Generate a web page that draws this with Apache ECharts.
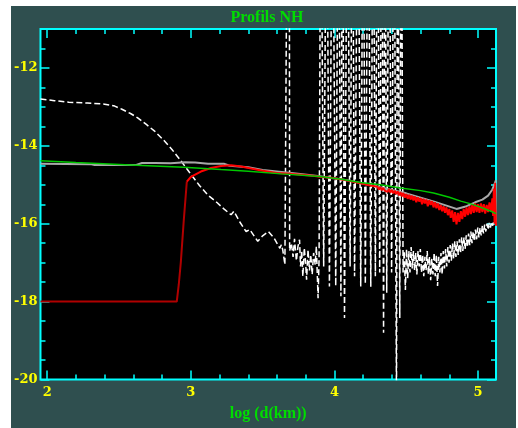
<!DOCTYPE html>
<html><head><meta charset="utf-8">
<script src="https://cdn.jsdelivr.net/npm/echarts@6/dist/echarts.min.js"></script>
<style>
html,body{margin:0;padding:0;background:#ffffff;width:518px;height:428px;overflow:hidden}
#c{position:absolute;left:11px;top:6px;width:505px;height:422px}
</style></head>
<body><div id="c"></div>
<script>
// ---- axis definitions ----
const X_MIN = 1.953, X_MAX = 5.125;
const Y_MIN = -20, Y_MAX = -11;
const xMajorTicks = [2, 3, 4, 5];
const xMinorTicks = [2.2, 2.4, 2.6, 2.8, 3.2, 3.4, 3.6, 3.8, 4.2, 4.4, 4.6, 4.8];
const yMajorTicks = [-20, -18, -16, -14, -12];
const yMinorTicks = [-19.5, -19, -18.5, -17.5, -17, -16.5, -15.5, -15, -14.5, -13.5, -13, -12.5, -11.5];
const titleText = 'Profils NH';
const xAxisName = 'log (d(km))';

// ---- series data [log d, value] ----
const whiteDashed = [
 [1.953,-12.80],[2.05,-12.84],[2.15,-12.88],[2.28,-12.90],[2.40,-12.93],[2.47,-12.98],[2.52,-13.06],
 [2.58,-13.17],[2.63,-13.28],[2.69,-13.45],[2.75,-13.63],[2.81,-13.85],[2.87,-14.10],[2.93,-14.38],
 [2.99,-14.68],[3.06,-15.02],[3.12,-15.27],[3.18,-15.45],[3.23,-15.62],[3.28,-15.77],[3.30,-15.68],
 [3.34,-15.95],[3.385,-16.20],[3.41,-16.15],[3.466,-16.45],[3.50,-16.31],[3.54,-16.20],[3.58,-16.37],
 [3.62,-16.63],[3.63,-16.54],[3.64,-16.67],[3.655,-17.05],[3.668,-17.10],[3.670,-8.0],[3.686,-8.0],
 [3.688,-16.70],[3.700,-16.50],[3.712,-16.85],[3.722,-16.39],[3.735,-16.95],[3.746,-16.58],[3.757,-16.41],
 [3.764,-17.10],[3.772,-16.70],[3.780,-17.35],[3.790,-16.62],[3.800,-17.05],[3.806,-17.44],[3.816,-16.67],
 [3.826,-17.20],[3.835,-16.80],[3.845,-17.30],[3.855,-16.75],[3.866,-17.05],[3.874,-16.58],[3.886,-17.91],
 [3.893,-16.90],
 [3.905,-6],[3.925,-17.10],[3.945,-6],[3.965,-17.61],[3.986,-6],[4.009,-17.60],[4.028,-6],[4.045,-17.86],
 [4.056,-6],[4.070,-18.42],[4.090,-6],[4.109,-17.10],[4.125,-6],[4.140,-17.35],[4.164,-6],[4.183,-17.61],
 [4.200,-6],[4.215,-17.55],[4.235,-6],[4.253,-17.62],[4.270,-6],[4.285,-17.35],[4.300,-6],[4.315,-17.25],
 [4.330,-6],[4.342,-18.80],[4.352,-6],[4.364,-17.77],[4.380,-6],[4.398,-17.25],[4.415,-6],[4.432,-20.6],
 [4.440,-6],[4.455,-18.42],[4.465,-6],
 [4.478,-17.25],[4.486,-16.70],[4.494,-17.70],[4.502,-16.65],[4.510,-17.40],[4.518,-16.70],[4.526,-17.25],
 [4.534,-16.60],[4.542,-17.15],[4.550,-16.70],[4.558,-17.20],[4.566,-16.75],[4.574,-17.30],[4.582,-16.70],
 [4.590,-17.10],[4.598,-16.65],[4.606,-17.25],[4.614,-16.80],[4.622,-17.35],[4.630,-16.85],[4.638,-17.20],
 [4.646,-16.70],[4.654,-17.30],[4.662,-16.85],[4.670,-17.45],[4.678,-16.90],[4.686,-17.30],[4.694,-16.75],
 [4.702,-17.35],[4.710,-16.80],[4.718,-17.60],[4.726,-16.85],[4.734,-17.25],[4.742,-16.75],[4.750,-17.30],
 [4.758,-16.70],[4.766,-17.15],[4.774,-16.65],[4.782,-17.10],[4.790,-16.60],[4.798,-17.00],[4.806,-16.55],
 [4.814,-16.95],[4.822,-16.50],[4.830,-16.90],[4.838,-16.45],[4.846,-16.85],[4.854,-16.45],[4.862,-16.80],
 [4.870,-16.40],[4.878,-16.75],[4.886,-16.35],[4.894,-16.70],[4.902,-16.35],[4.910,-16.65],[4.918,-16.30],
 [4.926,-16.60],[4.934,-16.25],[4.942,-16.55],[4.950,-16.20],[4.958,-16.50],[4.966,-16.20],[4.974,-16.45],
 [4.982,-16.15],[4.990,-16.40],[4.998,-16.10],[5.006,-16.35],[5.014,-16.10],[5.022,-16.30],[5.030,-16.05],
 [5.038,-16.25],[5.046,-16.02],[5.054,-16.20],[5.062,-16.00],[5.070,-16.15],[5.078,-15.98],[5.086,-16.10],
 [5.094,-15.95],[5.102,-16.05],[5.110,-15.92],[5.118,-15.98],[5.125,-15.85]
];
const grayLine = [
 [1.953,-14.46],[2.30,-14.47],[2.33,-14.49],[2.62,-14.49],[2.66,-14.44],[2.75,-14.44],[2.86,-14.45],
 [2.96,-14.42],[3.03,-14.43],[3.12,-14.46],[3.23,-14.46],[3.27,-14.51],[3.40,-14.55],[3.50,-14.62],
 [3.70,-14.70],[3.90,-14.78],[4.10,-14.89],[4.30,-15.05],[4.50,-15.22],[4.70,-15.44],[4.85,-15.62],
 [4.92,-15.55],[4.98,-15.45],[5.03,-15.38],[5.07,-15.28],[5.10,-15.12],[5.125,-14.88]
];
const redFlat = [
 [1.953,-18.0],[2.902,-18.0],[2.909,-17.95],[2.916,-17.56],[2.930,-17.0],[2.951,-15.90],[2.972,-14.92]
];
const redLine = [
 [2.972,-14.92],[3.00,-14.80],[3.07,-14.66],[3.14,-14.57],[3.21,-14.52],[3.28,-14.50],[3.35,-14.53],
 [3.42,-14.58],[3.50,-14.64],[3.60,-14.70],[3.70,-14.72],[3.77,-14.74],[3.85,-14.77],[3.91,-14.80],
 [3.98,-14.82],[4.04,-14.86],[4.10,-14.90],[4.18,-14.96],[4.25,-15.02],
 [4.30,-15.05],[4.31,-15.12],[4.32,-15.06],[4.33,-15.14],[4.34,-15.08],[4.35,-15.15],[4.36,-15.10],
 [4.37,-15.18],[4.38,-15.11],[4.39,-15.20],[4.40,-15.13],[4.41,-15.22],[4.42,-15.15],[4.43,-15.24],
 [4.44,-15.17],[4.45,-15.27],[4.46,-15.19],[4.47,-15.30],[4.48,-15.21],[4.49,-15.33],[4.50,-15.24],
 [4.51,-15.36],[4.52,-15.26],[4.53,-15.38],[4.54,-15.28],[4.55,-15.40],[4.56,-15.30],[4.57,-15.45],
 [4.58,-15.32],[4.59,-15.43],[4.60,-15.34],[4.61,-15.50],[4.62,-15.36],[4.63,-15.48],[4.64,-15.38],
 [4.65,-15.55],[4.66,-15.40],[4.67,-15.52],[4.68,-15.42],[4.69,-15.58],[4.70,-15.45],[4.71,-15.60],
 [4.72,-15.48],[4.73,-15.65],[4.74,-15.52],[4.75,-15.68],[4.76,-15.55],[4.77,-15.72],[4.78,-15.58],
 [4.79,-15.78],[4.80,-15.62],[4.81,-15.85],[4.82,-15.66],[4.83,-15.95],[4.84,-15.70],[4.85,-16.02],
 [4.86,-15.72],[4.87,-15.95],[4.88,-15.68],[4.89,-15.88],[4.90,-15.62],[4.91,-15.82],[4.92,-15.58],
 [4.93,-15.78],[4.94,-15.55],[4.95,-15.75],[4.96,-15.50],[4.97,-15.72],[4.98,-15.48],[4.99,-15.70],
 [5.00,-15.50],[5.01,-15.72],[5.02,-15.48],[5.03,-15.70],[5.04,-15.50],[5.05,-15.74],[5.06,-15.52],
 [5.07,-15.70],[5.08,-15.45],[5.09,-15.68],[5.10,-15.35],[5.105,-15.80],[5.11,-15.10],[5.115,-16.00],
 [5.12,-14.95],[5.125,-16.05]
];
const greenLine = [
 [1.953,-14.38],[2.20,-14.43],[2.58,-14.49],[2.95,-14.55],[3.21,-14.61],[3.40,-14.65],[3.63,-14.72],
 [3.90,-14.79],[4.05,-14.86],[4.18,-14.94],[4.32,-15.00],[4.46,-15.08],[4.60,-15.15],[4.69,-15.21],
 [4.80,-15.32],[4.88,-15.42],[4.95,-15.49],[5.02,-15.58],[5.09,-15.68],[5.125,-15.74]
];

// ---- styles ----
const CYAN = '#00ffff';
const tickFont = {color:'#ffff00', fontFamily:'DejaVu Serif', fontWeight:'bold', fontSize:13};
const greenFont = {color:'#00dd00', fontFamily:'Liberation Serif', fontWeight:'bold', fontSize:16};

function xAx(pos, ticks, len, withLabels, extra) {
  return Object.assign({
    type:'value', position:pos, min:X_MIN, max:X_MAX, gridIndex:0,
    axisLine:{show:false}, splitLine:{show:false},
    axisTick:{show:true, inside:true, length:len, customValues:ticks, lineStyle:{color:CYAN, width:1.5}},
    axisLabel: withLabels ? Object.assign({show:true, customValues:ticks, margin:7}, tickFont) : {show:false}
  }, extra || {});
}
function yAx(pos, ticks, len, withLabels) {
  return {
    type:'value', position:pos, min:Y_MIN, max:Y_MAX, gridIndex:0,
    axisLine:{show:false}, splitLine:{show:false},
    axisTick:{show:true, inside:true, length:len, customValues:ticks, lineStyle:{color:CYAN, width:1.5}},
    axisLabel: withLabels ? Object.assign({show:true, customValues:ticks, margin:3}, tickFont) : {show:false}
  };
}
function lineSeries(data, color, type, width) {
  return {
    type:'line', data:data, xAxisIndex:0, yAxisIndex:0, showSymbol:false, symbol:'none',
    clip:true, silent:true, animation:false,
    lineStyle:{color:color, width:width, type:type}
  };
}

const chart = echarts.init(document.getElementById('c'), null, {renderer:'canvas'});
chart.setOption({
  animation:false,
  backgroundColor:'#2f4f4f',
  grid:{left:29, top:23, width:456, height:350.5, show:true, backgroundColor:'#000000', borderColor:CYAN, borderWidth:2},
  graphic:[{
    type:'text', x:256, y:12, silent:true,
    style:{text:titleText, fill:greenFont.color, font:'bold 16px "Liberation Serif"',
           align:'center', verticalAlign:'middle', textAlign:'center', textVerticalAlign:'middle'}
  }],
  xAxis:[
    xAx('bottom', xMajorTicks, 9, true, {name:xAxisName, nameLocation:'middle', nameGap:26, nameTextStyle:greenFont}),
    xAx('top', xMajorTicks, 9, false),
    xAx('bottom', xMinorTicks, 5, false),
    xAx('top', xMinorTicks, 5, false)
  ],
  yAxis:[
    yAx('left', yMajorTicks, 9, true),
    yAx('right', yMajorTicks, 9, false),
    yAx('left', yMinorTicks, 5, false),
    yAx('right', yMinorTicks, 5, false)
  ],
  series:[
    lineSeries(whiteDashed, '#ffffff', [6,3], 1.5),
    lineSeries(grayLine, '#a8a8a8', 'solid', 2),
    lineSeries(redFlat, '#b00000', 'solid', 2),
    lineSeries(redLine, '#ff0000', 'solid', 2),
    lineSeries(greenLine, '#00c800', 'solid', 1.5)
  ]
});
</script></body></html>
